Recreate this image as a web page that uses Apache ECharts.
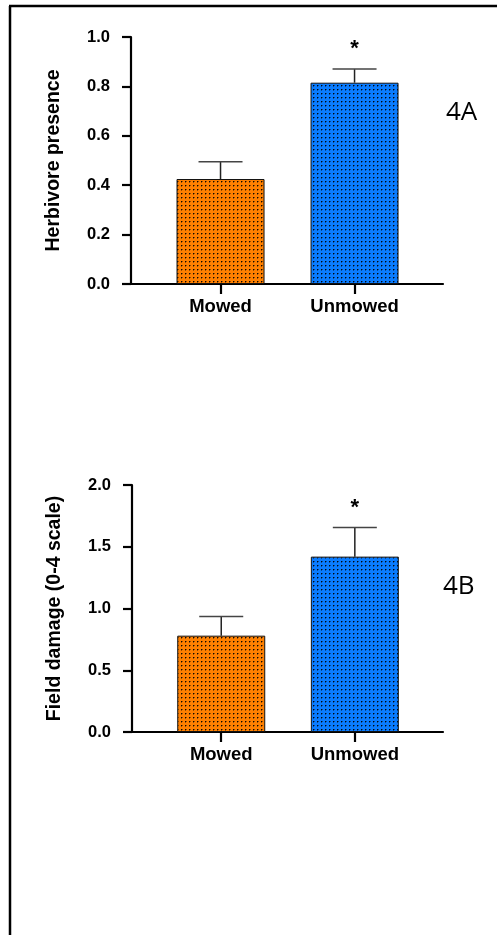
<!DOCTYPE html>
<html>
<head>
<meta charset="utf-8">
<title>Herbivore presence and field damage</title>
<script src="https://cdn.jsdelivr.net/npm/echarts@6/dist/echarts.min.js"></script>
<style>
  html, body { margin: 0; padding: 0; background: #fff; }
  #chart { width: 498px; height: 935px; }
</style>
</head>
<body>
<div id="chart"></div>
<script>
// Treatments (x categories)
const categories = ['Mowed', 'Unmowed'];

// Panel 4A: herbivore presence (mean and SEM)
const presenceMean = [0.425, 0.815];
const presenceSem = [0.07, 0.055];

// Panel 4B: field damage on a 0-4 scale (mean and SEM)
const damageMean = [0.78, 1.42];
const damageSem = [0.155, 0.235];

// Significance markers shown above each bar
const significance = ['', '*'];

// Y axis tick settings
const presenceTicks = { min: 0, max: 1, interval: 0.2 };
const damageTicks = { min: 0, max: 2, interval: 0.5 };

const panelTags = ['4A', '4B'];

// Stippled fill: solid colour with a fine grid of dark dots
function stipple(base) {
  const c = document.createElement('canvas');
  c.width = 4; c.height = 4;
  const ctx = c.getContext('2d');
  ctx.fillStyle = base;
  ctx.fillRect(0, 0, 4, 4);
  ctx.fillStyle = 'rgba(0,0,0,0.95)';
  ctx.fillRect(1, 1, 1, 1);
  ctx.fillStyle = 'rgba(0,0,0,0.4)';
  ctx.fillRect(2, 1, 1, 1);
  ctx.fillRect(1, 2, 1, 1);
  return { image: c, repeat: 'repeat' };
}
const fills = [stipple('#ff8000'), stipple('#0a7cff')];

const FONT = '"Liberation Sans", Arial, sans-serif';

function xAxisFor(gridIndex) {
  return {
    type: 'value',
    gridIndex: gridIndex,
    min: -0.668,
    max: 1.66,
    splitLine: { show: false },
    axisLine: { show: true, onZero: false, lineStyle: { color: '#000', width: 2.2 } },
    axisTick: { show: true, customValues: [0, 1], length: 10, lineStyle: { color: '#000', width: 2.2 } },
    axisLabel: {
      customValues: [0, 1],
      formatter: v => categories[Math.round(v)] || '',
      margin: 13,
      color: '#000',
      fontFamily: FONT,
      fontWeight: 'bold',
      fontSize: 18.5
    }
  };
}

function yAxisFor(gridIndex, ticks, name) {
  return {
    type: 'value',
    gridIndex: gridIndex,
    min: ticks.min,
    max: ticks.max,
    interval: ticks.interval,
    name: name,
    nameLocation: 'middle',
    nameGap: 67,
    nameTextStyle: { color: '#000', fontFamily: FONT, fontWeight: 'bold', fontSize: 19.5 },
    splitLine: { show: false },
    axisLine: { show: true, onZero: false, lineStyle: { color: '#000', width: 2.2 } },
    axisTick: { show: true, length: 9, lineStyle: { color: '#000', width: 2.2 } },
    axisLabel: {
      formatter: v => v.toFixed(1),
      margin: 21,
      color: '#000',
      fontFamily: FONT,
      fontWeight: 'bold',
      fontSize: 16.5
    }
  };
}

function barSeries(idx, means) {
  return {
    type: 'bar',
    xAxisIndex: idx,
    yAxisIndex: idx,
    barWidth: 88,
    data: means.map((m, i) => ({
      value: [i, m],
      itemStyle: { color: fills[i] }
    })),
    itemStyle: { borderColor: '#111', borderWidth: 1 },
    silent: true
  };
}

function errorSeries(idx, means, sems) {
  return {
    type: 'custom',
    xAxisIndex: idx,
    yAxisIndex: idx,
    data: means.map((m, i) => [i, m, m + sems[i]]),
    renderItem: function (params, api) {
      const i = api.value(0);
      const base = api.coord([i, api.value(1)]);
      const top = api.coord([i, api.value(2)]);
      const half = 22;
      const children = [
        { type: 'line', shape: { x1: base[0], y1: base[1], x2: top[0], y2: top[1] },
          style: { stroke: '#222', lineWidth: 1.5 } },
        { type: 'line', shape: { x1: top[0] - half, y1: top[1], x2: top[0] + half, y2: top[1] },
          style: { stroke: '#444', lineWidth: 1.5 } }
      ];
      const mark = significance[i];
      if (mark) {
        children.push({
          type: 'text',
          style: {
            x: top[0], y: top[1] - 20, text: mark,
            fill: '#000', font: 'bold 22px ' + FONT,
            align: 'center', verticalAlign: 'middle'
          }
        });
      }
      return { type: 'group', children: children };
    },
    silent: true,
    z: 5
  };
}

const chart = echarts.init(document.getElementById('chart'), null, { renderer: 'canvas' });

chart.setOption({
  backgroundColor: '#fff',
  animation: false,
  grid: [
    { left: 131, right: 55, top: 37, bottom: 651 },
    { left: 132, right: 55, top: 485, bottom: 203 }
  ],
  xAxis: [xAxisFor(0), xAxisFor(1)],
  yAxis: [
    yAxisFor(0, presenceTicks, 'Herbivore presence'),
    yAxisFor(1, damageTicks, 'Field damage (0-4 scale)')
  ],
  series: [
    barSeries(0, presenceMean),
    errorSeries(0, presenceMean, presenceSem),
    barSeries(1, damageMean),
    errorSeries(1, damageMean, damageSem)
  ],
  graphic: [
    { type: 'line', shape: { x1: 9, y1: 6, x2: 497, y2: 6 }, style: { stroke: '#000', lineWidth: 2.5 } },
    { type: 'line', shape: { x1: 10, y1: 6, x2: 10, y2: 935 }, style: { stroke: '#000', lineWidth: 2.5 } },
    { type: 'text', x: 446, y: 113,
      style: { text: panelTags[0], fill: '#000', font: '26px "Open Sans", sans-serif', verticalAlign: 'middle' } },
    { type: 'text', x: 443, y: 587,
      style: { text: panelTags[1], fill: '#000', font: '26px "Open Sans", sans-serif', verticalAlign: 'middle' } }
  ]
});
</script>
</body>
</html>
